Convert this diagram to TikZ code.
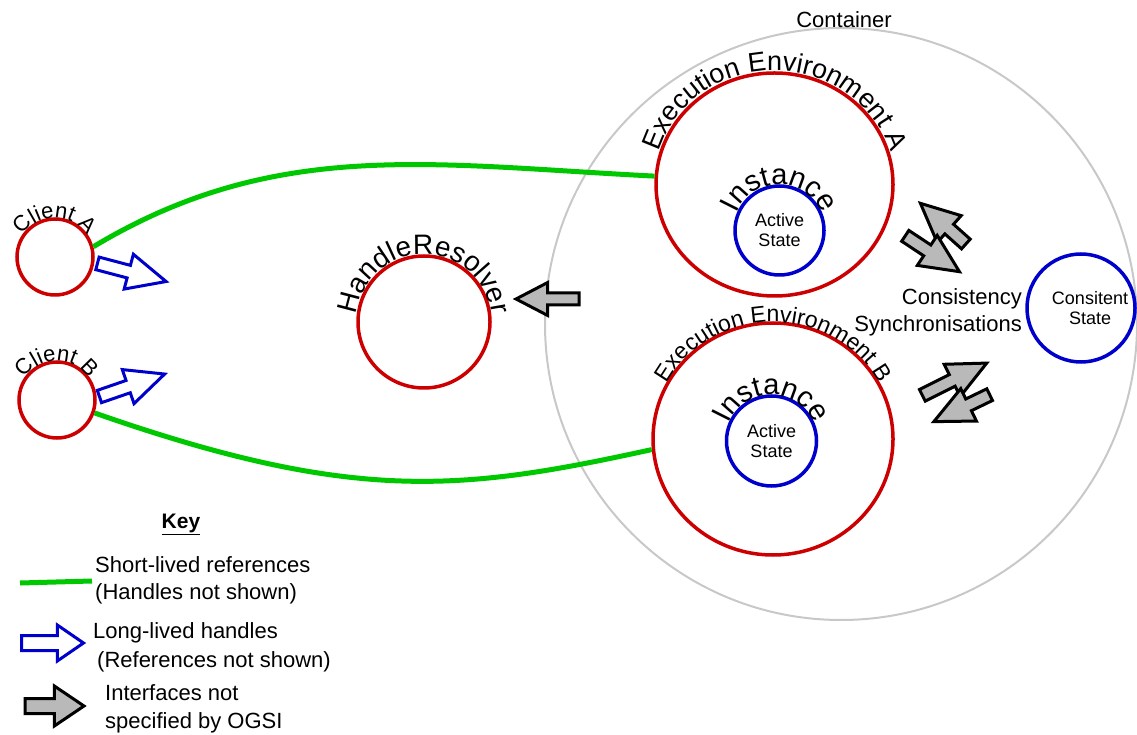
\documentclass[tikz,border=0pt]{standalone}
\usepackage{fontspec}
\setmainfont{Liberation Sans}
\usetikzlibrary{decorations.text,shapes.geometric,shapes.arrows}

\definecolor{envred}{RGB}{204,0,0}
\definecolor{stateblue}{RGB}{0,0,204}
\definecolor{refgreen}{RGB}{0,200,0}
\definecolor{boundgray}{RGB}{200,200,200}
\definecolor{ifacegray}{RGB}{185,185,185}

% fonts for the curved labels
\newcommand\clientfont{\fontsize{22}{22}\selectfont}
\newcommand\resolverfont{\fontsize{28}{28}\selectfont}
\newcommand\envAfont{\fontsize{27}{27}\selectfont}
\newcommand\envBfont{\fontsize{23}{23}\selectfont}
\newcommand\instfont{\fontsize{29}{29}\selectfont}

\tikzset{
  redring/.style={circle, draw=envred, line width=3.5pt, inner sep=0pt},
  envring/.style={ellipse, draw=envred, line width=3.5pt, inner sep=0pt},
  statering/.style={circle, draw=stateblue, line width=3.5pt, inner sep=0pt,
    align=center, font=\fontsize{18}{20}\selectfont},
  boundary/.style={circle, draw=boundgray, line width=2pt, inner sep=0pt},
  shortref/.style={draw=refgreen, line width=5pt},
  plain/.style={inner sep=0pt, font=\fontsize{22}{26}\selectfont},
  small/.style={inner sep=0pt, font=\fontsize{18}{20}\selectfont, align=center},
  % block arrow: shaft half width = inner ysep, head reach = head extend
  blockarrow/.style={single arrow, inner xsep=0pt, minimum width=0pt,
    inner ysep=5pt, single arrow head extend=11.5pt, single arrow tip angle=50,
    line width=3pt, line join=miter, anchor=tail},
  handlearrow/.style={blockarrow, draw=stateblue, fill=white},
  ifacearrow/.style={blockarrow, draw=black, fill=ifacegray},
  arclabel/.style={decorate, decoration={text along path, text align=center, text={#1}}}
}

\begin{document}
\begin{tikzpicture}[x=1pt,y=1pt]
\useasboundingbox (0,0) rectangle (1137,734);

% container
\node[boundary, minimum size=592pt] (ctr) at (841,410) {};
\node[plain, anchor=base] (ctrlabel) at (844,706) {Container};

% clients and resolver
\node[redring, minimum size=76pt] (clA) at (55,477) {};
\node[redring, minimum size=76pt] (clB) at (57,334) {};
\node[redring, minimum size=132pt] (hr) at (424,412) {};

% execution environments with their instances
\node[envring, minimum width=237pt, minimum height=223pt] (eeA) at (774.5,549.5) {};
\node[envring, minimum width=240pt, minimum height=232pt] (eeB) at (773,295) {};
\node[statering, minimum size=89pt] (asA) at (779.5,503.5) {Active\\State};
\node[statering, minimum size=90pt] (asB) at (771.5,293) {Active\\State};

% shared state
\node[statering, minimum size=108pt] (cs) at (1081,426) {};
\node[small] (cstext) at (1090,426) {Consitent\\State};
\node[plain, anchor=base east] (sync1) at (1022,429) {Consistency};
\node[plain, anchor=base east] (sync2) at (1022,402) {Synchronisations};

% short-lived references
\draw[shortref] (clA.15) .. controls (276,597) and (433,569) .. (eeA.176);
\draw[shortref] (clB.-19) .. controls (355,230) and (462,243) .. (eeB.185);

% long-lived handles
\node[handlearrow, rotate=-14.8, minimum height=71pt] (hA) at (96,471) {};
\node[handlearrow, rotate=19, minimum height=69pt] (hB) at (98,337) {};

% unspecified interfaces
\node[ifacearrow, rotate=180, minimum height=63pt, inner ysep=4.5pt,
  single arrow head extend=10.5pt, single arrow tip angle=55] (iR) at (580.5,435) {};
\node[ifacearrow, rotate=138.2, minimum height=61pt] (s1) at (967,489) {};
\node[ifacearrow, rotate=-33.5, minimum height=65pt] (s2) at (904,499) {};
\node[ifacearrow, rotate=26.6, minimum height=72pt] (s3) at (921,338) {};
\node[ifacearrow, rotate=205.8, minimum height=62pt] (s4) at (991,340) {};

% curved labels
\path[arclabel={|\clientfont|Client A}] (clA.center) ++(170:39) arc[start angle=170, end angle=10, radius=39];
\path[arclabel={|\clientfont|Client B}] (clB.center) ++(170:39) arc[start angle=170, end angle=10, radius=39];
\path[arclabel={|\resolverfont|HandleResolver}] (hr.center) ++(200:68) arc[start angle=200, end angle=-20, radius=68];
\path[arclabel={|\envAfont|Execution Environment A}] (eeA.center) ++(180:121 and 114)
  arc[start angle=180, end angle=0, x radius=121, y radius=114];
\path[arclabel={|\envBfont|Execution Environment B}] (eeB.center) ++(180:121 and 117)
  arc[start angle=180, end angle=0, x radius=121, y radius=117];
\path[arclabel={|\instfont|Instance}] (asA.center) ++(200:46) arc[start angle=200, end angle=-20, radius=46];
\path[arclabel={|\instfont|Instance}] (asB.center) ++(200:46) arc[start angle=200, end angle=-20, radius=46];

% key
\node[plain, anchor=base, font=\bfseries\fontsize{21}{24}\selectfont] (key) at (181,206) {\underline{Key}};
\coordinate (k1) at (20,151);
\coordinate (k2) at (92,153);
\draw[shortref] (k1) -- (k2);
\node[plain, anchor=base west] (kt1) at (95,162) {Short-lived references};
\node[plain, anchor=base west] (kt2) at (95,135) {(Handles not shown)};
\node[handlearrow, minimum height=62pt, inner ysep=6pt,
  single arrow head extend=10.5pt, single arrow tip angle=69] (kh) at (20,91) {};
\node[plain, anchor=base west] (kt3) at (93,96) {Long-lived handles};
\node[plain, anchor=base west] (kt4) at (97,67) {(References not shown)};
\node[ifacearrow, minimum height=59pt, inner ysep=6pt,
  single arrow head extend=12.5pt, single arrow tip angle=68] (ki) at (23.5,28) {};
\node[plain, anchor=base west] (kt5) at (105,34) {Interfaces not};
\node[plain, anchor=base west] (kt6) at (105,6) {specified by OGSI};
\end{tikzpicture}
\end{document}
